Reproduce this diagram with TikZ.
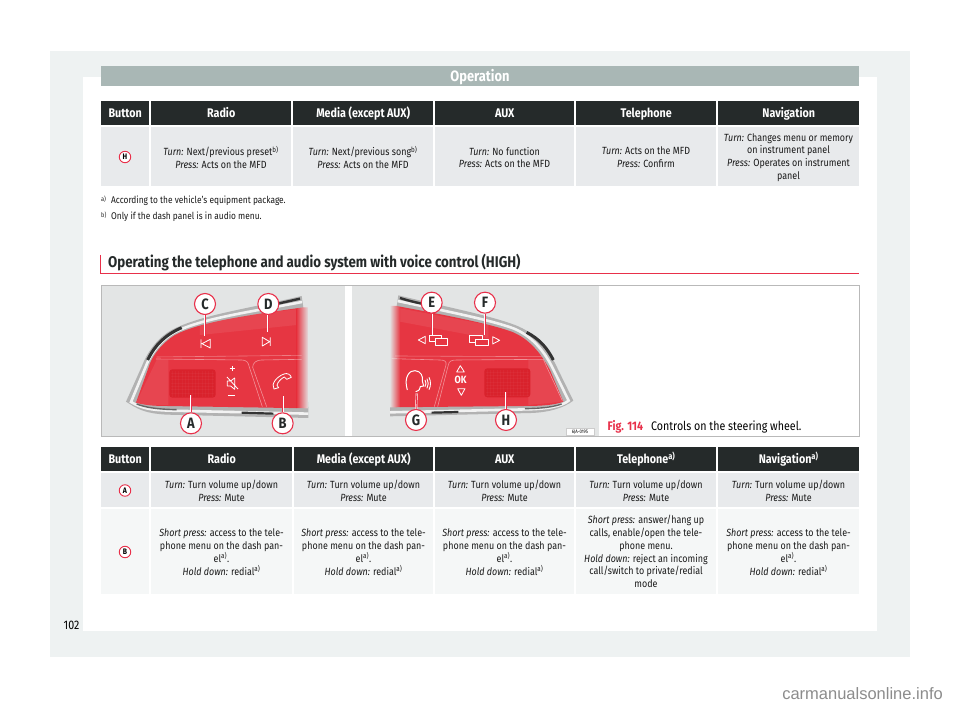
\documentclass[tikz,border=0pt]{standalone}
\usepackage{fontspec}
\setmainfont[FakeStretch=0.86]{Fira Sans}
\newfontfamily\wmfont{Liberation Sans}
\usetikzlibrary{calc}
\definecolor{panelgrey}{HTML}{EEF2F2}
\definecolor{barGrey}{HTML}{A9B7B5}
\definecolor{headDark}{HTML}{252A2A}
\definecolor{rowDark}{HTML}{E8EAEC}
\definecolor{rowLight}{HTML}{F5F7F7}
\definecolor{seatRed}{HTML}{E8304A}
\definecolor{figGrey}{HTML}{E3E5E5}
\definecolor{padRed}{HTML}{E63642}
\definecolor{knobRed}{HTML}{D9222C}
\tikzset{
headcell/.style={fill=headDark,text=white,font=\fontsize{12.5}{14}\selectfont\bfseries,minimum height=24pt,text height=10pt,text depth=1pt,inner sep=0pt,anchor=west},
bodycell/.style={text=black!90,font=\fontsize{10.4}{12.8}\selectfont,align=center,inner sep=0pt},
notecell/.style={text=black!90,font=\fontsize{9.7}{11}\selectfont,inner sep=0pt,anchor=west},
notemark/.style={text=black!90,font=\fontsize{6.5}{7}\selectfont,inner sep=0pt,anchor=west},
keymark/.style={circle,draw=seatRed,fill=white,line width=0.9pt,minimum size=11.5pt,inner sep=0pt,font=\fontsize{8}{8}\selectfont\bfseries},
callout/.style={circle,draw=seatRed,fill=white,line width=1.1pt,minimum size=21pt,inner sep=0pt,text=headDark,font=\fontsize{15}{15}\selectfont\bfseries},
leader/.style={draw=white,line width=2pt},
leadercore/.style={draw=seatRed,line width=0.7pt},
iconline/.style={draw=white,line width=0.8pt,line join=round},
}
\newcommand{\tn}[1]{\textit{#1}}
\newcommand{\fnm}[1]{\textsuperscript{#1}}
\begin{document}
\begin{tikzpicture}[x=1pt,y=-1pt]
\useasboundingbox (0,0) rectangle (960,708);
\fill[white] (0,0) rectangle (960,708);
\fill[panelgrey] (50,51) rectangle (910,657);
\fill[white] (83,77) rectangle (877,631);
\fill[barGrey] (101,66) rectangle (859,86);
\node[text=white,font=\fontsize{15}{16}\selectfont\bfseries] (title) at (480,77.5) {Operation};
% upper table
\node[headcell,minimum width=48pt] (uh1) at (101,113) {Button};
\node[headcell,minimum width=140pt] (uh2) at (151,113) {Radio};
\node[headcell,minimum width=140pt] (uh3) at (293,113) {Media (except AUX)};
\node[headcell,minimum width=139pt] (uh4) at (435,113) {AUX};
\node[headcell,minimum width=140pt] (uh5) at (576,113) {Telephone};
\node[headcell,minimum width=141pt] (uh6) at (718,113) {Navigation};
\foreach \xa/\xb in {101/149,151/291,293/433,435/574,576/716,718/859}
\fill[rowDark] (\xa,127) rectangle (\xb,186);
\node[keymark] (uH) at (125,157) {H};
\node[bodycell] (uc2) at (221,157.5) {\tn{Turn:} Next/previous preset\fnm{b)}\\\tn{Press:} Acts on the MFD};
\node[bodycell] (uc3) at (363,157.5) {\tn{Turn:} Next/previous song\fnm{b)}\\\tn{Press:} Acts on the MFD};
\node[bodycell] (uc4) at (504.5,157.5) {\tn{Turn:} No function\\\tn{Press:} Acts on the MFD};
\node[bodycell] (uc5) at (646,157.5) {\tn{Turn:} Acts on the MFD\\\tn{Press:} Confirm};
\node[bodycell] (uc6) at (788.5,157.5) {\tn{Turn:} Changes menu or memory\\on instrument panel\\\tn{Press:} Operates on instrument\\panel};
% notes and heading
\node[notemark] (fa) at (101,199) {a)};
\node[notecell] (fna) at (111,200.5) {According to the vehicle's equipment package.};
\node[notemark] (fb) at (101,215) {b)};
\node[notecell] (fnb) at (111,216.5) {Only if the dash panel is in audio menu.};
\draw[seatRed,line width=0.8pt] (100.5,255) -- (100.5,273) -- (859,273);
\node[anchor=west,inner sep=0pt,text=headDark,font=\fontsize{15.5}{17}\selectfont\bfseries] (heading) at (108,262.5) {Operating the telephone and audio system with voice control (HIGH)};
% figure frame
\fill[figGrey] (101,285) rectangle (599,436);
\fill[white] (345,285) rectangle (352,436);
% left pad
\begin{scope}[shift={(100,280)},x=0.3333pt,y=-0.3333pt]
\fill[gray!60] (605,48) .. controls (450,85) and (300,105) .. (215,150) .. controls (170,175) and (140,220) .. (125,260) -- (78,365) .. controls (110,385) and (130,400) .. (200,404) -- (625,414) -- (625,385) -- (610,82) -- cycle;
\draw[white!90!gray,line width=2.6pt] (606,66) .. controls (450,96) and (300,116) .. (222,158) .. controls (180,182) and (150,225) .. (138,258) -- (93,366) .. controls (125,385) and (150,390) .. (210,392) -- (625,401);
\draw[black!80,line width=2.4pt] (600,56) .. controls (565,64) and (530,72) .. (490,80);
\draw[black!80,line width=3pt] (245,143) .. controls (195,165) and (165,195) .. (143,240);
\draw[black!80,line width=2.2pt] (425,398) -- (520,401);
\draw[black!60,line width=1.4pt] (110,372) .. controls (135,382) and (170,388) .. (230,389);
\begin{scope}
\clip (610,82) .. controls (450,105) and (300,125) .. (225,165) .. controls (185,190) and (160,225) .. (150,250) -- (108,368) .. controls (130,375) and (160,378) .. (200,378) -- (625,385) -- (625,82) -- cycle;
\fill[padRed] (90,70) rectangle (590,390);
\fill[white,opacity=0.08] (300,118) -- (590,88) -- (590,135) -- (300,165) -- cycle;
\fill[white,opacity=0.08] (170,240) -- (205,240) -- (205,375) -- (105,375) -- cycle;
\shade[left color=padRed,right color=figGrey] (590,70) rectangle (626,390);
\end{scope}
\draw[white,opacity=0.35,line width=0.6pt] (170,231) -- (605,226);
\draw[white,opacity=0.45,line width=0.6pt] (168,237) -- (425,240) .. controls (440,240) and (445,248) .. (447,258) -- (487,380);
\draw[white,opacity=0.45,line width=0.6pt] (500,380) -- (458,262) .. controls (458,248) and (470,240) .. (485,240) -- (605,238);
\fill[knobRed,rounded corners=3pt] (208,268) rectangle (347,353);
\foreach \kx in {215,225,...,340} \draw[white,opacity=0.03,line width=0.3pt] (\kx,272) -- (\kx,350);
\foreach \ky in {278,288,...,345} \draw[white,opacity=0.03,line width=0.3pt] (212,\ky) -- (343,\ky);
\draw[iconline] (303,178) -- (303,204) (331,178) -- (306,191) -- (331,204) -- cycle;
\draw[iconline] (511,172) -- (511,198) (487,172) -- (509,185) -- (487,198) -- cycle;
\draw[white,line width=1.3pt] (397,258) -- (397,274) (389,266) -- (405,266) (385,347) -- (405,347);
\draw[iconline] (382,303) -- (392,303) -- (404,294) -- (404,328) -- (392,318) -- (382,318) -- cycle (381,291) -- (414,327);
\draw[iconline] (522,327) .. controls (512,312) and (530,290) .. (552,282) .. controls (562,278) and (572,284) .. (574,292) -- (560,298) -- (553,291) .. controls (543,296) and (533,306) .. (531,316) -- (536,323) -- cycle;
\coordinate (aEnd) at (273,345);
\coordinate (bEnd) at (548,348);
\coordinate (cEnd) at (315,168);
\coordinate (dEnd) at (505,155);
\node[callout] (btnA) at (273,430) {A};
\node[callout] (btnB) at (548,430) {B};
\node[callout] (btnC) at (315,72) {C};
\node[callout] (btnD) at (505,72) {D};
\end{scope}
% right pad
\begin{scope}[shift={(345,280)},x=0.3333pt,y=-0.3333pt]
\fill[gray!60] (160,46) .. controls (300,80) and (430,105) .. (510,135) .. controls (575,160) and (610,205) .. (640,270) -- (685,362) .. controls (655,385) and (610,397) .. (560,399) -- (135,409) -- (135,382) -- (155,78) -- cycle;
\draw[white!90!gray,line width=2.6pt] (158,63) .. controls (300,93) and (430,118) .. (505,145) .. controls (560,168) and (597,210) .. (627,272) -- (671,362) .. controls (650,380) and (600,387) .. (550,388) -- (135,397);
\draw[black!80,line width=2.4pt] (165,54) .. controls (190,62) and (215,68) .. (240,73);
\draw[black!80,line width=3pt] (545,157) .. controls (585,178) and (607,205) .. (625,240);
\draw[black!80,line width=2.2pt] (260,398) -- (340,396);
\draw[black!60,line width=1.4pt] (650,372) .. controls (620,382) and (590,385) .. (540,386);
\begin{scope}
\clip (155,78) .. controls (300,105) and (430,130) .. (500,155) .. controls (550,175) and (585,215) .. (615,270) -- (655,365) .. controls (630,375) and (590,378) .. (540,378) -- (135,382) -- (135,78) -- cycle;
\fill[padRed] (165,70) rectangle (670,390);
\fill[white,opacity=0.08] (165,85) -- (430,135) -- (430,175) -- (165,125) -- cycle;
\fill[white,opacity=0.08] (550,240) -- (595,240) -- (655,365) -- (550,375) -- cycle;
\shade[left color=figGrey,right color=padRed] (134,70) rectangle (165,390);
\end{scope}
\draw[white,opacity=0.35,line width=0.6pt] (150,228) -- (590,230);
\draw[white,opacity=0.45,line width=0.6pt] (140,236) -- (285,240) .. controls (300,240) and (305,245) .. (303,255) -- (268,380);
\draw[white,opacity=0.45,line width=0.6pt] (278,380) -- (310,255) .. controls (312,243) and (320,240) .. (335,240) -- (595,238) -- (652,362);
\fill[knobRed,rounded corners=3pt] (418,265) rectangle (556,352);
\foreach \kx in {425,435,...,550} \draw[white,opacity=0.03,line width=0.3pt] (\kx,269) -- (\kx,349);
\foreach \ky in {275,285,...,345} \draw[white,opacity=0.03,line width=0.3pt] (422,\ky) -- (552,\ky);
\draw[iconline] (241,169) -- (220,180) -- (241,191) -- cycle;
\draw[iconline] (254,165) rectangle (290,183);
\fill[padRed] (272,176) rectangle (308,195);
\draw[iconline] (272,176) rectangle (308,195);
\draw[iconline] (373,166) rectangle (411,186);
\fill[padRed] (392,178) rectangle (429,197);
\draw[iconline] (392,178) rectangle (429,197);
\draw[iconline] (443,170) -- (464,181) -- (443,192) -- cycle;
\draw[iconline] (335,276) -- (346,257) -- (358,276) -- cycle (338,326) -- (360,326) -- (349,346) -- cycle;
\node[text=white,font=\fontsize{10.5}{11}\selectfont\bfseries,inner sep=0pt] (okmark) at (347,301) {OK};
\draw[white,line width=1pt] (187,330) .. controls (175,290) and (195,270) .. (210,272) .. controls (228,273) and (235,290) .. (232,303) -- (236,318) -- (226,320) .. controls (226,328) and (222,332) .. (212,335);
\draw[white,line width=0.9pt] (240,300) .. controls (244,306) and (244,314) .. (240,320) (246,296) .. controls (251,305) and (251,316) .. (246,325) (252,292) .. controls (258,303) and (258,318) .. (252,329);
\coordinate (eEnd) at (260,165);
\coordinate (fEnd) at (420,165);
\coordinate (gEnd) at (215,340);
\coordinate (hEnd) at (483,335);
\node[callout] (btnE) at (260,68) {E};
\node[callout] (btnF) at (420,68) {F};
\node[callout] (btnG) at (213,420) {G};
\node[callout] (btnH) at (483,420) {H};
\node[fill=white,draw=gray!40,line width=0.3pt,minimum width=28pt,minimum height=6.5pt,inner sep=0pt,font=\fontsize{5}{5}\selectfont] (figcode) at (705,455) {6JA-0195};
\end{scope}
\foreach \btn/\tip in {btnA/aEnd,btnB/bEnd,btnC/cEnd,btnD/dEnd,btnE/eEnd,btnF/fEnd,btnG/gEnd,btnH/hEnd}{
\draw[leader] (\btn) -- (\tip);
\draw[leadercore] (\btn) -- (\tip);
}
\draw[gray!55,line width=0.7pt] (101,285) rectangle (859,436);
\node[anchor=west,inner sep=0pt,font=\fontsize{12.4}{14}\selectfont] (figcap) at (607.5,427) {\textcolor{seatRed}{\textbf{Fig. 114}}\hspace{8pt}Controls on the steering wheel.};
% lower table
\node[headcell,minimum width=48pt] (lh1) at (101,459) {Button};
\node[headcell,minimum width=141pt] (lh2) at (151,459) {Radio};
\node[headcell,minimum width=139pt] (lh3) at (294,459) {Media (except AUX)};
\node[headcell,minimum width=139pt] (lh4) at (435,459) {AUX};
\node[headcell,minimum width=140pt] (lh5) at (576,459) {Telephone\fnm{a)}};
\node[headcell,minimum width=141pt] (lh6) at (718,459) {Navigation\fnm{a)}};
\foreach \xa/\xb in {101/149,151/292,294/433,435/574,576/716,718/859}{
\fill[rowDark] (\xa,473) rectangle (\xb,507);
\fill[rowLight] (\xa,509) rectangle (\xb,594);
}
\node[keymark] (lA) at (125,490.5) {A};
\node[keymark] (lB) at (125,552) {B};
\foreach \cname/\cx in {la2/221.5,la3/363.5,la4/504.5,la5/646,la6/788.5}
\node[bodycell] (\cname) at (\cx,490.5) {\tn{Turn:} Turn volume up/down\\\tn{Press:} Mute};
\foreach \cname/\cx in {lb2/221.5,lb3/363.5,lb4/504.5,lb6/788.5}
\node[bodycell] (\cname) at (\cx,552) {\tn{Short press:} access to the tele-\\phone menu on the dash pan-\\el\fnm{a)}.\\\tn{Hold down:} redial\fnm{a)}};
\node[bodycell] (lb5) at (646,551.5) {\tn{Short press:} answer/hang up\\calls, enable/open the tele-\\phone menu.\\\tn{Hold down:} reject an incoming\\call/switch to private/redial\\mode};
\node[anchor=west,inner sep=0pt,font=\fontsize{12.4}{14}\selectfont] (pagenum) at (63.5,625) {102};
\node[anchor=east,inner sep=0pt,text=black!45,font=\wmfont\fontsize{16.5}{18}\selectfont] (wmark) at (943,694) {carmanualsonline.info};
\end{tikzpicture}
\end{document}
